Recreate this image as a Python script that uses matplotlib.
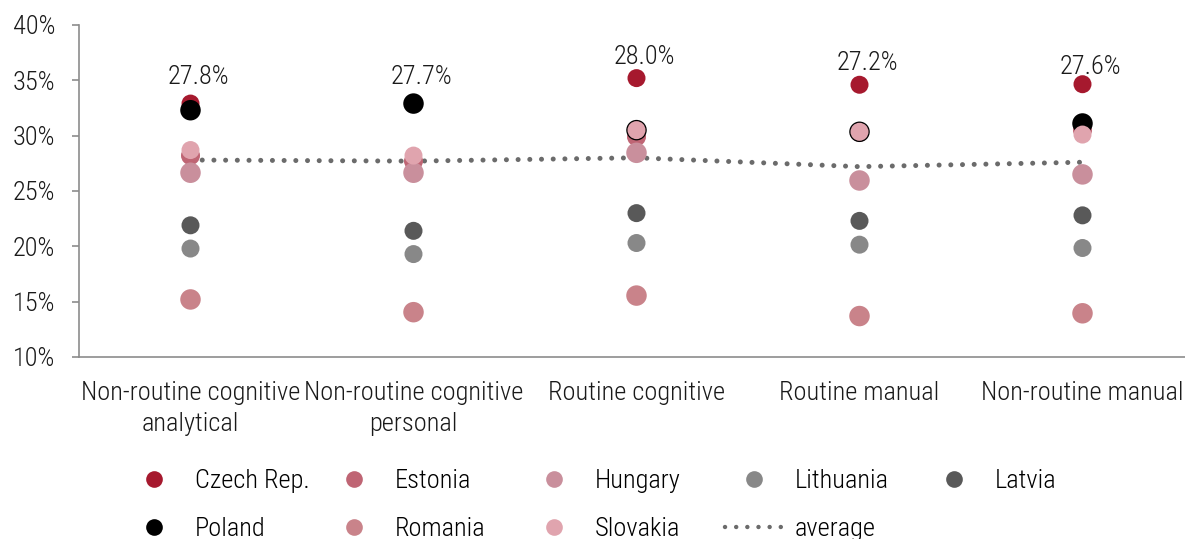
"""Task-content distribution by country, with cross-country average."""

import matplotlib
matplotlib.use("Agg")
import matplotlib.pyplot as plt
from matplotlib.lines import Line2D
from matplotlib.ticker import FuncFormatter

FONT = ["Roboto Condensed", "Liberation Sans Narrow", "Roboto", "DejaVu Sans"]
plt.rcParams["font.family"] = FONT
plt.rcParams["font.weight"] = "light"

categories = [
    "Non-routine cognitive\nanalytical",
    "Non-routine cognitive\npersonal",
    "Routine cognitive",
    "Routine manual",
    "Non-routine manual",
]

czech = [32.9, 32.9, 35.2, 34.6, 34.65]
estonia = [28.2, 27.7, 29.9, 30.3, 30.5]
hungary = [26.65, 26.65, 28.45, 25.95, 26.5]
lithuania = [19.8, 19.3, 20.3, 20.15, 19.85]
latvia = [21.9, 21.4, 23.0, 22.3, 22.8]
poland = [32.3, 32.9, 30.5, 30.35, 31.1]
romania = [15.2, 14.05, 15.55, 13.7, 13.95]
slovakia = [28.7, 28.2, 30.5, 30.35, 30.1]
average = [27.8, 27.7, 28.0, 27.2, 27.6]
label_height = [35.3, 35.3, 37.1, 36.55, 36.2]

countries = [
    ("Czech Rep.", czech, "#A6192E", 18),
    ("Estonia", estonia, "#BF6574", 19),
    ("Hungary", hungary, "#C98F9C", 20.5),
    ("Lithuania", lithuania, "#888888", 18),
    ("Latvia", latvia, "#595959", 18),
    ("Poland", poland, "#000000", 20.5),
    ("Romania", romania, "#C9838A", 20.5),
    ("Slovakia", slovakia, "#E0A4AE", 18),
]

FS = 19


def main():
    fig = plt.figure(figsize=(11.85, 5.39), dpi=100)
    ax = fig.add_axes([79 / 1185, 182 / 539, 1115 / 1185, 332 / 539])
    x = list(range(len(categories)))

    handles = {}
    for name, values, color, diam in countries:
        size = (diam * 0.72) ** 2
        ax.scatter(x, values, s=size, color=color, edgecolors="none", zorder=3)
        handles[name] = Line2D([], [], ls="none", marker="o", markersize=12,
                               markerfacecolor=color, markeredgecolor="none")

    ax.plot(x, average, color="#6B6B6B", lw=3.6, ls=(0, (0.01, 2.33)),
            dash_capstyle="round", zorder=2)
    handles["average"] = Line2D([], [], color="#6B6B6B", lw=3.2,
                                ls=(0, (0.01, 2.5)), dash_capstyle="round")

    for xi, avg, h in zip(x, average, label_height):
        ax.annotate(f"{avg:.1f}%", (xi, h), xytext=(6, 0), textcoords="offset points",
                    ha="center", va="center", fontsize=FS, color="#1a1a1a")

    ax.set_xlim(-0.5, 4.5)
    ax.set_ylim(10, 40)
    ax.set_yticks(range(10, 41, 5))
    ax.yaxis.set_major_formatter(FuncFormatter(lambda v, _: f"{v:.0f}%"))
    ax.set_xticks(x)
    ax.set_xticklabels(categories, fontsize=FS, linespacing=1.4)
    ax.tick_params(axis="x", length=0, pad=17, colors="#1a1a1a")
    ax.tick_params(axis="y", length=5, width=1.2, color="#8c8c8c", pad=12,
                   labelsize=FS, labelcolor="#1a1a1a")
    for side in ("top", "right"):
        ax.spines[side].set_visible(False)
    for side in ("left", "bottom"):
        ax.spines[side].set_color("#8c8c8c")
        ax.spines[side].set_linewidth(1.2)

    columns = [
        ["Czech Rep.", "Poland"],
        ["Estonia", "Romania"],
        ["Hungary", "Slovakia"],
        ["Lithuania", "average"],
        ["Latvia"],
    ]
    for i, col in enumerate(columns):
        fig.legend([handles[n] for n in col], col, loc="upper left",
                   bbox_to_anchor=((125 + 200 * i) / 1185, 1 - 469 / 539),
                   frameon=False, fontsize=FS, handlelength=2.2,
                   handletextpad=0.45, labelspacing=0.9, borderpad=0,
                   borderaxespad=0)

    fig.savefig("out.png", dpi=100)


if __name__ == "__main__":
    main()
